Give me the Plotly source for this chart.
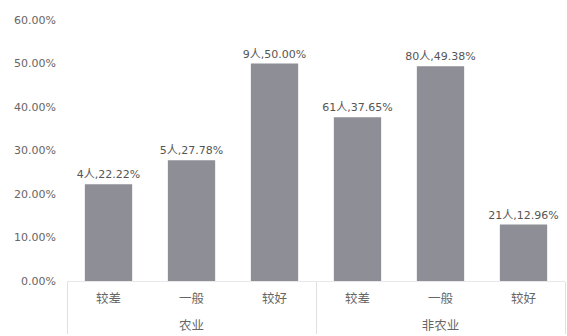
import plotly.graph_objects as go

groups = ["农业", "农业", "农业", "非农业", "非农业", "非农业"]
levels = ["较差", "一般", "较好", "较差", "一般", "较好"]
counts = [4, 5, 9, 61, 80, 21]
shares = [0.2222, 0.2778, 0.5000, 0.3765, 0.4938, 0.1296]
y_ticks = [0, 0.1, 0.2, 0.3, 0.4, 0.5, 0.6]

font_family = "DejaVu Sans, Noto Sans CJK SC, sans-serif"

# extra blank line under each level label pushes the group row down
level_labels = [lv + "<br> " for lv in levels]

fig = go.Figure(
    go.Bar(
        x=[groups, level_labels],
        y=shares,
        customdata=counts,
        texttemplate="%{customdata}人,%{y:.2%}",
        textposition="outside",
        constraintext="none",
        textfont=dict(size=11, color="#555555", family=font_family),
        marker=dict(color="#8e8e96", line=dict(width=0)),
        width=0.57,
        cliponaxis=False,
    )
)

fig.update_layout(
    width=567,
    height=336,
    margin=dict(l=67, r=2, t=20, b=55),
    paper_bgcolor="white",
    plot_bgcolor="white",
    showlegend=False,
    font=dict(family=font_family, size=11, color="#666666"),
)
fig.update_yaxes(
    range=[0, 0.6],
    tickvals=y_ticks,
    tickformat=".2%",
    showgrid=False,
    zeroline=False,
    showline=False,
    ticks="",
    ticklabelstandoff=10,
    tickfont=dict(size=11, color="#666666"),
)
fig.update_xaxes(
    showgrid=False,
    showline=True,
    linecolor="#e8e8e8",
    linewidth=1,
    ticks="",
    ticklabelstandoff=6,
    showdividers=True,
    dividercolor="#e0e0e0",
    dividerwidth=1,
    tickfont=dict(size=12.5, color="#666666"),
)

fig.write_html("out.html")
